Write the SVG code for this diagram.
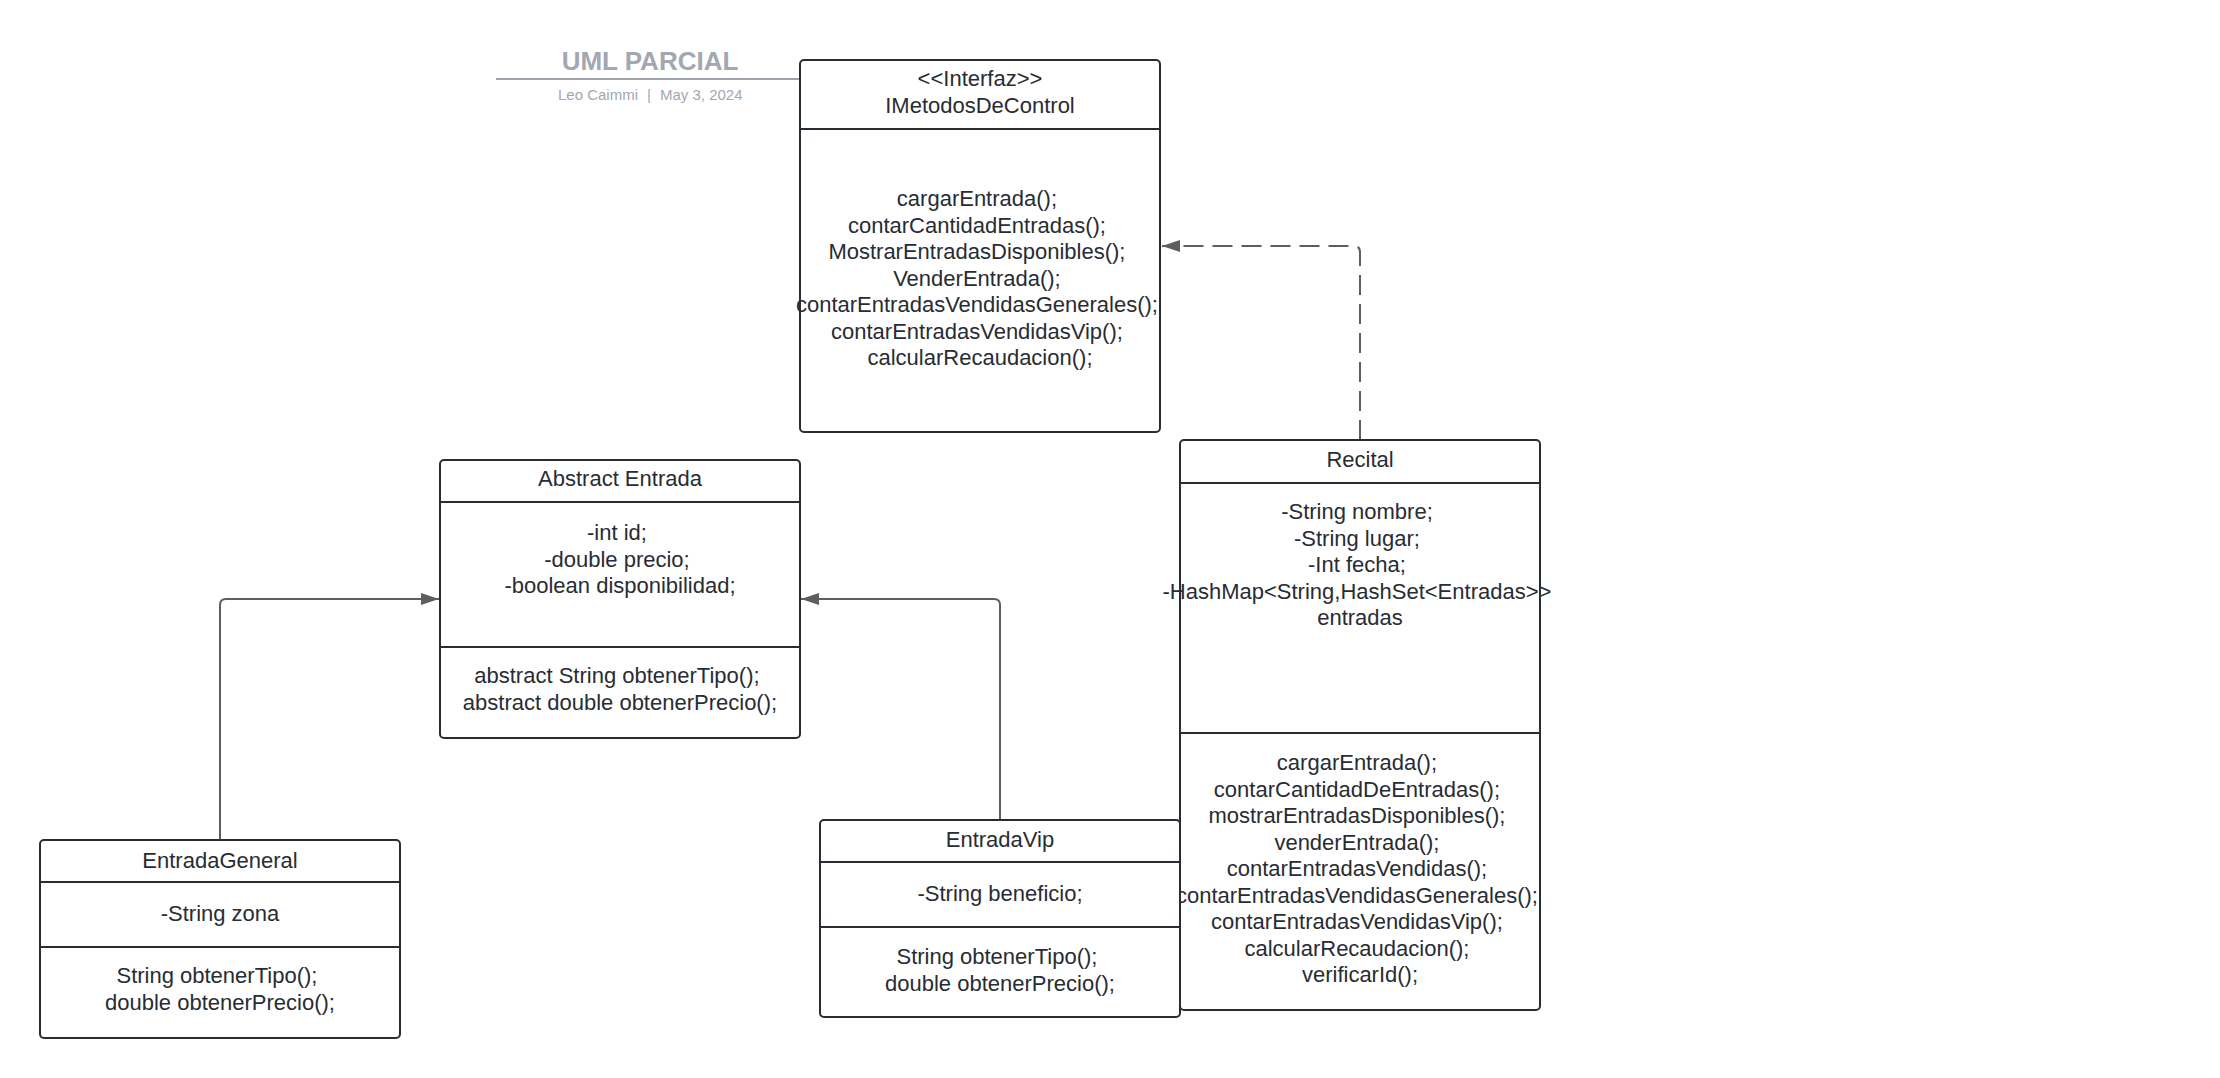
<svg xmlns="http://www.w3.org/2000/svg" width="2220" height="1078" viewBox="0 0 2220 1078">
<style>
  .box { fill: #ffffff; stroke: #282c33; stroke-width: 2; }
  .div { stroke: #282c33; stroke-width: 2; }
  .t { font-family: "Liberation Sans", Arial, sans-serif; font-size: 22px; fill: #282c33; text-anchor: middle; }
  .conn { fill: none; stroke: #5e5e5e; stroke-width: 2; }
  .dash { stroke-dasharray: 20 9; }
  .title { font-family: "Liberation Sans", Arial, sans-serif; font-size: 26px; font-weight: bold; fill: #a3a7b1; text-anchor: middle; }
  .sub { font-family: "Liberation Sans", Arial, sans-serif; font-size: 15px; fill: #a3a7b1; }
</style>
<defs>
  <marker id="arrow" markerUnits="userSpaceOnUse" markerWidth="18" markerHeight="12" refX="18" refY="6" orient="auto">
    <path d="M0,0 L18,6 L0,12 z" fill="#5e5e5e"/>
  </marker>
</defs>
<rect width="2220" height="1078" fill="#ffffff"/>

<g id="title">
  <line x1="496" y1="79" x2="800" y2="79" stroke="#9fa3ae" stroke-width="2"/>
  <text class="title" x="650" y="70">UML PARCIAL</text>
  <text class="sub" x="638" y="100" text-anchor="end">Leo Caimmi</text>
  <text class="sub" x="649" y="100" text-anchor="middle">|</text>
  <text class="sub" x="660" y="100" text-anchor="start">May 3, 2024</text>
</g>

<g id="connectors">
  <path class="conn dash" d="M1360,440 V252 Q1360,246 1354,246 H1162" marker-end="url(#arrow)"/>
  <path class="conn" d="M220,840 V605 Q220,599 226,599 H439" marker-end="url(#arrow)"/>
  <path class="conn" d="M1000,820 V605 Q1000,599 994,599 H801" marker-end="url(#arrow)"/>
</g>

<g id="IMetodosDeControl">
  <rect class="box" x="800" y="60" width="360" height="372" rx="4"/>
  <line class="div" x1="800" y1="129" x2="1160" y2="129"/>
  <text class="t" x="980" y="86">&lt;&lt;Interfaz&gt;&gt;</text>
  <text class="t" x="980" y="113">IMetodosDeControl</text>
  <text class="t">
    <tspan x="980" y="206">cargarEntrada();</tspan>
    <tspan x="980" y="232.5">contarCantidadEntradas();</tspan>
    <tspan x="980" y="259">MostrarEntradasDisponibles();</tspan>
    <tspan x="980" y="285.5">VenderEntrada();</tspan>
    <tspan x="980" y="312">contarEntradasVendidasGenerales();</tspan>
    <tspan x="980" y="338.5">contarEntradasVendidasVip();</tspan>
    <tspan x="980" y="365">calcularRecaudacion();</tspan>
  </text>
</g>

<g id="AbstractEntrada">
  <rect class="box" x="440" y="460" width="360" height="278" rx="4"/>
  <line class="div" x1="440" y1="502" x2="800" y2="502"/>
  <line class="div" x1="440" y1="647" x2="800" y2="647"/>
  <text class="t" x="620" y="486">Abstract Entrada</text>
  <text class="t">
    <tspan x="620" y="540">-int id;</tspan>
    <tspan x="620" y="566.5">-double precio;</tspan>
    <tspan x="620" y="593">-boolean disponibilidad;</tspan>
  </text>
  <text class="t">
    <tspan x="620" y="683">abstract String obtenerTipo();</tspan>
    <tspan x="620" y="709.5">abstract double obtenerPrecio();</tspan>
  </text>
</g>

<g id="Recital">
  <rect class="box" x="1180" y="440" width="360" height="570" rx="4"/>
  <line class="div" x1="1180" y1="483" x2="1540" y2="483"/>
  <line class="div" x1="1180" y1="733" x2="1540" y2="733"/>
  <text class="t" x="1360" y="467">Recital</text>
  <text class="t">
    <tspan x="1360" y="519">-String nombre;</tspan>
    <tspan x="1360" y="545.5">-String lugar;</tspan>
    <tspan x="1360" y="572">-Int fecha;</tspan>
    <tspan x="1360" y="598.5">-HashMap&lt;String,HashSet&lt;Entradas&gt;&gt;</tspan>
    <tspan x="1360" y="625">entradas</tspan>
  </text>
  <text class="t">
    <tspan x="1360" y="770">cargarEntrada();</tspan>
    <tspan x="1360" y="796.5">contarCantidadDeEntradas();</tspan>
    <tspan x="1360" y="823">mostrarEntradasDisponibles();</tspan>
    <tspan x="1360" y="849.5">venderEntrada();</tspan>
    <tspan x="1360" y="876">contarEntradasVendidas();</tspan>
    <tspan x="1360" y="902.5">contarEntradasVendidasGenerales();</tspan>
    <tspan x="1360" y="929">contarEntradasVendidasVip();</tspan>
    <tspan x="1360" y="955.5">calcularRecaudacion();</tspan>
    <tspan x="1360" y="982">verificarId();</tspan>
  </text>
</g>

<g id="EntradaGeneral">
  <rect class="box" x="40" y="840" width="360" height="198" rx="4"/>
  <line class="div" x1="40" y1="882" x2="400" y2="882"/>
  <line class="div" x1="40" y1="947" x2="400" y2="947"/>
  <text class="t" x="220" y="868">EntradaGeneral</text>
  <text class="t" x="220" y="921">-String zona</text>
  <text class="t">
    <tspan x="220" y="983">String obtenerTipo();</tspan>
    <tspan x="220" y="1009.5">double obtenerPrecio();</tspan>
  </text>
</g>

<g id="EntradaVip">
  <rect class="box" x="820" y="820" width="360" height="197" rx="4"/>
  <line class="div" x1="820" y1="862" x2="1180" y2="862"/>
  <line class="div" x1="820" y1="927" x2="1180" y2="927"/>
  <text class="t" x="1000" y="847">EntradaVip</text>
  <text class="t" x="1000" y="901">-String beneficio;</text>
  <text class="t">
    <tspan x="1000" y="964">String obtenerTipo();</tspan>
    <tspan x="1000" y="990.5">double obtenerPrecio();</tspan>
  </text>
</g>
</svg>
